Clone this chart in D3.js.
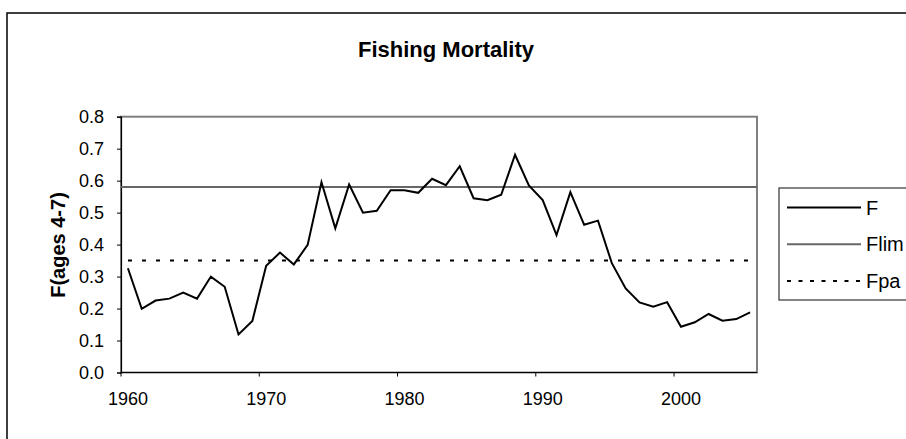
<!DOCTYPE html>
<html><head><meta charset="utf-8">
<script src="https://cdn.jsdelivr.net/npm/d3@7/dist/d3.min.js"></script>
<style>body{margin:0;background:#fff}svg{display:block;font-family:"Liberation Sans",Arial,sans-serif}</style>
</head><body><svg id="c" width="906" height="439"></svg>
<script>
const years = d3.range(1960, 2006);
const fValues = [0.326,0.199,0.225,0.231,0.250,0.231,0.300,0.268,0.119,0.161,
  0.334,0.375,0.338,0.399,0.595,0.451,0.588,0.500,0.506,0.570,
  0.570,0.562,0.606,0.586,0.645,0.545,0.539,0.556,0.681,0.585,
  0.539,0.430,0.564,0.462,0.475,0.342,0.263,0.219,0.206,0.220,
  0.143,0.157,0.183,0.162,0.167,0.188];
const flim = 0.58;
const fpa = 0.35;
const yTicks = [0,0.1,0.2,0.3,0.4,0.5,0.6,0.7,0.8];
const xLabels = [1960,1970,1980,1990,2000];
const seriesNames = ["F","Flim","Fpa"];

const svg = d3.select("#c");
const L=121, R=757, T=116.7, B=372.5;
const x = d3.scaleBand().domain(years).range([L,R]).paddingInner(0).paddingOuter(0);
const y = d3.scaleLinear().domain([0,0.8]).range([B,T]);

// outer chart border
svg.append("rect").attr("x",7).attr("y",13).attr("width",1000).attr("height",500)
  .attr("fill","#fff").attr("stroke","#000").attr("stroke-width",1.5);

// plot area border (gray)
svg.append("rect").attr("x",L).attr("y",T).attr("width",R-L).attr("height",B-T)
  .attr("fill","#fff").attr("stroke","#808080").attr("stroke-width",2);

// title
svg.append("text").attr("x",446).attr("y",57).attr("text-anchor","middle")
  .attr("font-weight","bold").attr("font-size",22).text("Fishing Mortality");

// y axis title
svg.append("text").attr("transform","translate(65,245) rotate(-90)")
  .attr("text-anchor","middle").attr("font-weight","bold").attr("font-size",20).text("F(ages 4-7)");

// y axis
const ya = svg.append("g").attr("transform",`translate(${L},0)`)
  .call(d3.axisLeft(y).tickValues(yTicks).tickFormat(d3.format(".1f")).tickSize(4).tickPadding(13));
ya.select(".domain").attr("stroke","#000").attr("stroke-width",1.2);
ya.selectAll("text").attr("font-size",18).attr("fill","#000").attr("font-family","Liberation Sans, Arial, sans-serif");

// x axis
const xa = svg.append("g").attr("transform",`translate(0,${B})`);
xa.append("line").attr("x1",L).attr("x2",R).attr("stroke","#000").attr("stroke-width",1.2);
xa.selectAll("line.tk").data(xLabels).join("line").attr("class","tk")
  .attr("x1",d=>x(d)).attr("x2",d=>x(d)).attr("y1",0).attr("y2",4).attr("stroke","#000");
xa.selectAll("text").data(xLabels).join("text")
  .attr("x",d=>x(d)+x.bandwidth()/2).attr("y",32).attr("text-anchor","middle")
  .attr("font-size",18).text(d=>d);

// reference lines
svg.append("line").attr("x1",L).attr("x2",R).attr("y1",y(flim)).attr("y2",y(flim))
  .attr("stroke","#666").attr("stroke-width",2);
svg.append("line").attr("x1",L+7).attr("x2",R).attr("y1",y(fpa)).attr("y2",y(fpa))
  .attr("stroke","#000").attr("stroke-width",2).attr("stroke-dasharray","4,10");

// F line
const line = d3.line().x((d,i)=>x(years[i])+x.bandwidth()/2).y(d=>y(d));
svg.append("path").datum(fValues).attr("d",line).attr("fill","none")
  .attr("stroke","#000").attr("stroke-width",2).attr("stroke-linejoin","miter");

// legend
const lg = svg.append("g");
lg.append("rect").attr("x",779).attr("y",188).attr("width",200).attr("height",112)
  .attr("fill","#fff").attr("stroke","#333").attr("stroke-width",1.2);
const ly = [207.5,244.3,281];
const styles = [{s:"#000",w:2,d:null},{s:"#666",w:2,d:null},{s:"#000",w:2,d:"4,7.5"}];
seriesNames.forEach((n,i)=>{
  lg.append("line").attr("x1",787).attr("x2",861).attr("y1",ly[i]).attr("y2",ly[i])
    .attr("stroke",styles[i].s).attr("stroke-width",styles[i].w).attr("stroke-dasharray",styles[i].d);
  lg.append("text").attr("x",866).attr("y",ly[i]+7).attr("font-size",20).text(n);
});
</script></body></html>
